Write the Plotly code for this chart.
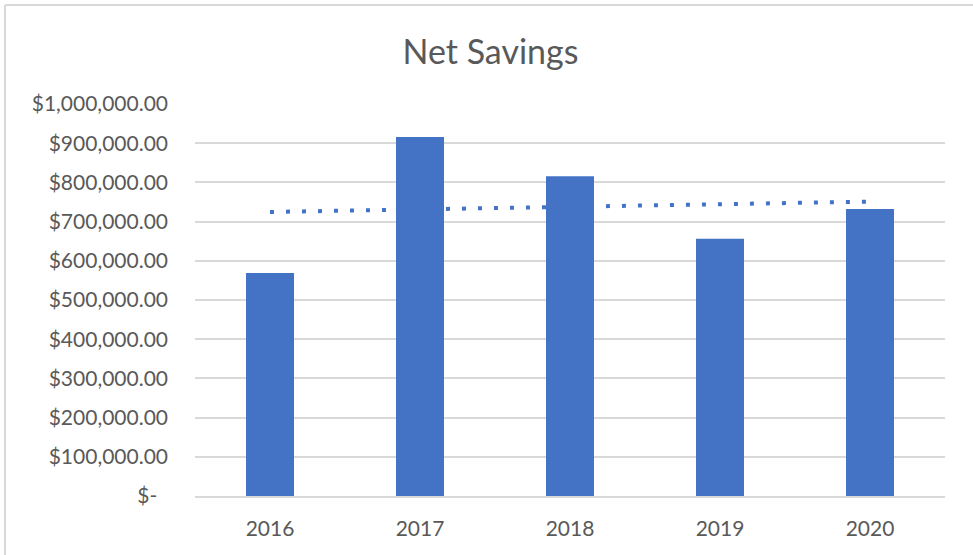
import numpy as np
import plotly.graph_objects as go

years = ["2016", "2017", "2018", "2019", "2020"]
net_savings = [569000, 916000, 816000, 656000, 732000]
tick_values = [0, 100000, 200000, 300000, 400000, 500000, 600000, 700000, 800000, 900000, 1000000]
tick_labels = ["$-\u00a0\u00a0", "$100,000.00", "$200,000.00", "$300,000.00", "$400,000.00",
               "$500,000.00", "$600,000.00", "$700,000.00", "$800,000.00", "$900,000.00",
               "$1,000,000.00"]

# linear trendline (least squares) as in the source chart
xi = np.arange(len(years))
slope, intercept = np.polyfit(xi, net_savings, 1)
trend = (slope * xi + intercept).tolist()

W, H = 973, 555
L, R, T, B = 195, 28, 104, 59
pw, ph = W - L - R, H - T - B

fig = go.Figure()
fig.add_trace(go.Bar(x=years, y=net_savings, marker_color="#4472C4", marker_line_width=0,
                     name="Net Savings"))
fig.add_trace(go.Scatter(x=years, y=trend, mode="lines",
                         line=dict(color="#4472C4", width=4, dash="4px,12px"),
                         name="Linear"))

font = "Lato, 'Open Sans', sans-serif"
fig.update_layout(
    width=W, height=H,
    margin=dict(l=L, r=R, t=T, b=B),
    paper_bgcolor="white", plot_bgcolor="white",
    showlegend=False,
    bargap=0.68,
    title=dict(text="Net Savings", x=490.5 / W, xanchor="center", xref="container",
               y=1 - 52 / H, yanchor="middle", yref="container",
               font=dict(family=font, size=34, color="#595959")),
    font=dict(family=font, color="#595959"),
)
fig.update_yaxes(range=[0, 1000000], tickvals=tick_values, ticktext=tick_labels,
                 showgrid=True, gridcolor="#d9d9d9", gridwidth=1.5, zeroline=False,
                 showline=False, ticks="", ticklabelstandoff=26,
                 tickfont=dict(family=font, size=21, color="#595959"))
fig.update_xaxes(type="category", showgrid=False, showline=True, linecolor="#d9d9d9",
                 linewidth=1.5, ticks="", ticklabelstandoff=13,
                 tickfont=dict(family=font, size=21, color="#595959"))

# chart border (top and left visible)
fig.add_shape(type="line", xref="paper", yref="paper",
              x0=(5 - L) / pw, x1=(W + 5 - L) / pw, y0=(H - B - 5) / ph, y1=(H - B - 5) / ph,
              line=dict(color="#d9d9d9", width=2))
fig.add_shape(type="line", xref="paper", yref="paper",
              x0=(5 - L) / pw, x1=(5 - L) / pw, y0=(H - B - 5) / ph, y1=(H - B - H - 5) / ph,
              line=dict(color="#d9d9d9", width=2))

fig.write_html("out.html", config={"displayModeBar": False},
               post_script="document.body.style.margin='0';document.body.style.padding='0';")
